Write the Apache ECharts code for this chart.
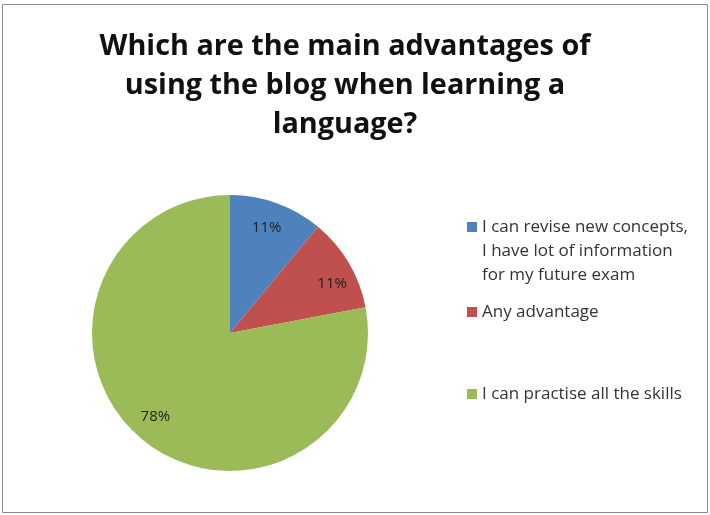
<!DOCTYPE html>
<html>
<head>
<meta charset="utf-8">
<script src="https://cdn.jsdelivr.net/npm/echarts@6/dist/echarts.min.js"></script>
<style>
  html, body { margin: 0; padding: 0; background: #fff; }
  #chart { width: 710px; height: 515px; }
</style>
</head>
<body>
<div id="chart"></div>
<script>
// Survey answers and their shares (percent)
const answers = [
  'I can revise new concepts, I have lot of information for my future exam',
  'Any advantage',
  'I can practise all the skills'
];
const shares = [11, 11, 78];
const sliceColors = ['#4F81BD', '#C0504D', '#9BBB59'];
const titleText = 'Which are the main advantages of\nusing the blog when learning a\nlanguage?';

const FONT = 'Open Sans';
const LINE_H = 24;

// legend text, wrapped the way the entries read
const legendLabel = {};
legendLabel[answers[0]] = 'I can revise new concepts,\nI have lot of information\nfor my future exam';

// per-slice nudges for the percentage labels
const labelOffsets = [[-2, 2], [4, 9], [-2, -4]];

const pieData = answers.map((name, i) => ({
  name: name,
  value: shares[i],
  itemStyle: { color: sliceColors[i] }
}));

// square marker sitting on the first text line of a three-line entry
const tallIcon = 'path://M0,0H10V10H0Z M0,58L0,58';

const legendTops = [215, 300, 382];
const legends = answers.map((name, i) => ({
  data: [{ name: name, icon: i === 0 ? tallIcon : 'rect' }],
  left: 467,
  top: legendTops[i],
  orient: 'vertical',
  padding: 0,
  itemWidth: 10,
  itemHeight: i === 0 ? 58 : 10,
  itemGap: 0,
  selectedMode: false,
  formatter: n => legendLabel[n] || n,
  textStyle: {
    fontFamily: FONT,
    fontSize: 17,
    color: '#333',
    lineHeight: LINE_H
  }
}));

const chart = echarts.init(document.getElementById('chart'), null, { renderer: 'canvas' });
chart.setOption({
  animation: false,
  backgroundColor: '#fff',
  title: {
    text: titleText,
    left: 345,
    textAlign: 'center',
    top: 27,
    padding: 0,
    textStyle: {
      fontFamily: FONT,
      fontSize: 28.8,
      fontWeight: 'bold',
      color: '#111',
      lineHeight: 39
    }
  },
  legend: legends,
  graphic: [{
    type: 'rect',
    shape: { x: 2.5, y: 4.5, width: 705, height: 508 },
    style: { fill: null, stroke: '#8a8a8a', lineWidth: 1 },
    silent: true,
    z: 100
  }],
  series: [
    {
      type: 'pie',
      center: [230, 333],
      radius: [0, 138],
      startAngle: 90,
      clockwise: true,
      data: pieData,
      label: { show: false },
      labelLine: { show: false },
      itemStyle: { borderWidth: 0 },
      emphasis: { disabled: true }
    },
    {
      // transparent ring used only to place the percentage labels
      type: 'pie',
      center: [230, 333],
      radius: [84, 138],
      startAngle: 90,
      clockwise: true,
      silent: true,
      data: pieData.map((d, i) => ({
        name: d.name,
        value: d.value,
        label: { offset: labelOffsets[i] }
      })),
      itemStyle: { color: 'rgba(0,0,0,0)', borderWidth: 0 },
      label: {
        show: true,
        position: 'inside',
        formatter: '{c}%',
        fontFamily: FONT,
        fontSize: 15,
        color: '#222'
      },
      labelLine: { show: false },
      emphasis: { disabled: true }
    }
  ]
});
</script>
</body>
</html>
